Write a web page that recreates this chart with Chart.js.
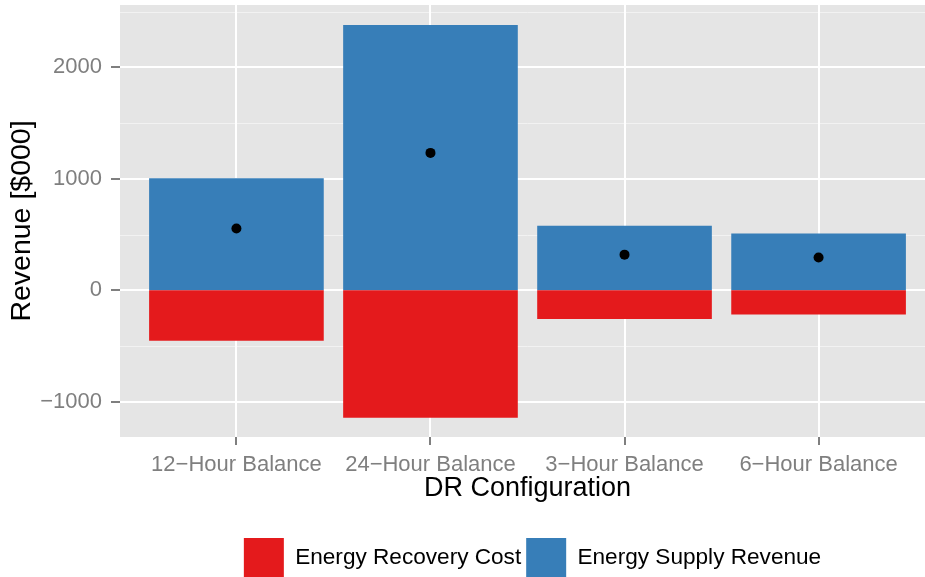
<!DOCTYPE html>
<html>
<head>
<meta charset="utf-8">
<script src="https://cdn.jsdelivr.net/npm/chart.js@4/dist/chart.umd.min.js"></script>
<style>
  html, body { margin: 0; padding: 0; background: #ffffff; overflow: hidden; width: 925px; height: 577px; }
  canvas { display: block; }
</style>
</head>
<body>
<canvas id="c" width="940" height="588"></canvas>
<script>
// ---- data ----
const categories = ['12\u2212Hour Balance', '24\u2212Hour Balance', '3\u2212Hour Balance', '6\u2212Hour Balance'];
const supplyRevenue = [1005, 2380, 580, 510];      // Energy Supply Revenue ($000)
const recoveryCost = [-452, -1143, -258, -218];    // Energy Recovery Cost ($000)
const netRevenue = [555, 1233, 320, 295];          // black points (net)
const yMajorTicks = [-1000, 0, 1000, 2000];
const yMinorTicks = [-500, 500, 1500, 2500];
const seriesNames = ['Energy Recovery Cost', 'Energy Supply Revenue'];

const FONT = '"Liberation Sans", Arial, Helvetica, sans-serif';
const GREY_TEXT = '#7F7F7F';

const panelPlugin = {
  id: 'panel',
  afterLayout(chart) {
    // ggplot centres the legend a little to the right of the panel centre
    if (chart.legend) {
      chart.legend.left += 5;
      chart.legend.right += 5;
    }
  },
  beforeDraw(chart) {
    const { ctx, chartArea: a, scales } = chart;
    const y = scales.y;
    ctx.save();
    ctx.fillStyle = '#E5E5E5';
    ctx.fillRect(a.left, a.top, a.right - a.left, a.bottom - a.top);
    ctx.strokeStyle = '#F2F2F2';
    ctx.lineWidth = 1;
    for (const v of yMinorTicks) {
      const py = Math.round(y.getPixelForValue(v)) + 0.5;
      ctx.beginPath();
      ctx.moveTo(a.left, py);
      ctx.lineTo(a.right, py);
      ctx.stroke();
    }
    // zero line drawn here so that the bars can sit flush on it
    ctx.strokeStyle = '#FFFFFF';
    ctx.lineWidth = 2;
    const p0 = Math.round(y.getPixelForValue(0));
    ctx.beginPath();
    ctx.moveTo(a.left, p0);
    ctx.lineTo(a.right, p0);
    ctx.stroke();
    ctx.restore();
  }
};

const toXY = arr => arr.map((v, i) => ({ x: i, y: v }));

new Chart(document.getElementById('c'), {
  data: {
    datasets: [
      {
        type: 'bar',
        label: seriesNames[0],
        data: toXY(recoveryCost),
        backgroundColor: '#E41A1C',
        borderWidth: 0,
        stack: 'main',
        categoryPercentage: 0.9,
        barPercentage: 1,
        order: 0
      },
      {
        type: 'bar',
        label: seriesNames[1],
        data: toXY(supplyRevenue),
        backgroundColor: '#377EB8',
        borderWidth: 0,
        stack: 'main',
        categoryPercentage: 0.9,
        barPercentage: 1,
        order: 0
      },
      {
        type: 'scatter',
        label: 'Net',
        data: toXY(netRevenue),
        backgroundColor: '#000000',
        borderWidth: 0,
        pointRadius: 5,
        stack: 'points',
        order: -1
      }
    ]
  },
  options: {
    responsive: false,
    animation: false,
    events: [],
    layout: { padding: { top: 4, right: 5, left: 0, bottom: 0 } },
    plugins: {
      tooltip: { enabled: false },
      legend: {
        position: 'bottom',
        fullSize: false,
        labels: {
          filter: item => item.text !== 'Net',
          boxWidth: 40,
          boxHeight: 40,
          padding: 5,
          color: '#000000',
          font: { family: FONT, size: 22.6 }
        }
      }
    },
    scales: {
      x: {
        type: 'linear',
        min: -0.6,
        max: 3.6,
        offset: false,
        stacked: true,
        afterBuildTicks: s => { s.ticks = categories.map((_, i) => ({ value: i })); },
        afterFit: s => { s.height = 96; s.paddingLeft = 0; s.paddingRight = 0; },
        ticks: {
          autoSkip: false,
          maxRotation: 0,
          padding: 9,
          color: GREY_TEXT,
          font: { family: FONT, size: 22, lineHeight: 1 },
          callback: v => categories[v] !== undefined ? categories[v] : ''
        },
        grid: {
          offset: false,
          color: '#FFFFFF',
          lineWidth: 2,
          tickColor: '#7F7F7F',
          tickLength: 8,
          tickWidth: 2
        },
        border: { display: false },
        title: {
          display: true,
          text: 'DR Configuration',
          color: '#000000',
          font: { family: FONT, size: 27, lineHeight: 1 },
          padding: { top: 0, bottom: 31 }
        }
      },
      y: {
        type: 'linear',
        stacked: true,
        min: -1316,
        max: 2560,
        afterBuildTicks: s => { s.ticks = yMajorTicks.map(v => ({ value: v })); },
        afterFit: s => { s.width = 120; s.paddingTop = 0; s.paddingBottom = 0; },
        ticks: {
          padding: 9,
          color: GREY_TEXT,
          font: { family: FONT, size: 22, lineHeight: 1 },
          callback: v => (v < 0 ? '\u2212' + Math.abs(v) : String(v))
        },
        grid: {
          color: '#FFFFFF',
          lineWidth: c => (c.tick && c.tick.value === 0 ? 0 : 2),
          tickColor: '#7F7F7F',
          tickLength: 9,
          tickWidth: 2
        },
        border: { display: false },
        title: {
          display: true,
          text: 'Revenue [$000]',
          color: '#000000',
          font: { family: FONT, size: 28.5, lineHeight: 1 },
          padding: { top: 8, bottom: 0 }
        }
      }
    }
  },
  plugins: [panelPlugin]
});
</script>
</body>
</html>
